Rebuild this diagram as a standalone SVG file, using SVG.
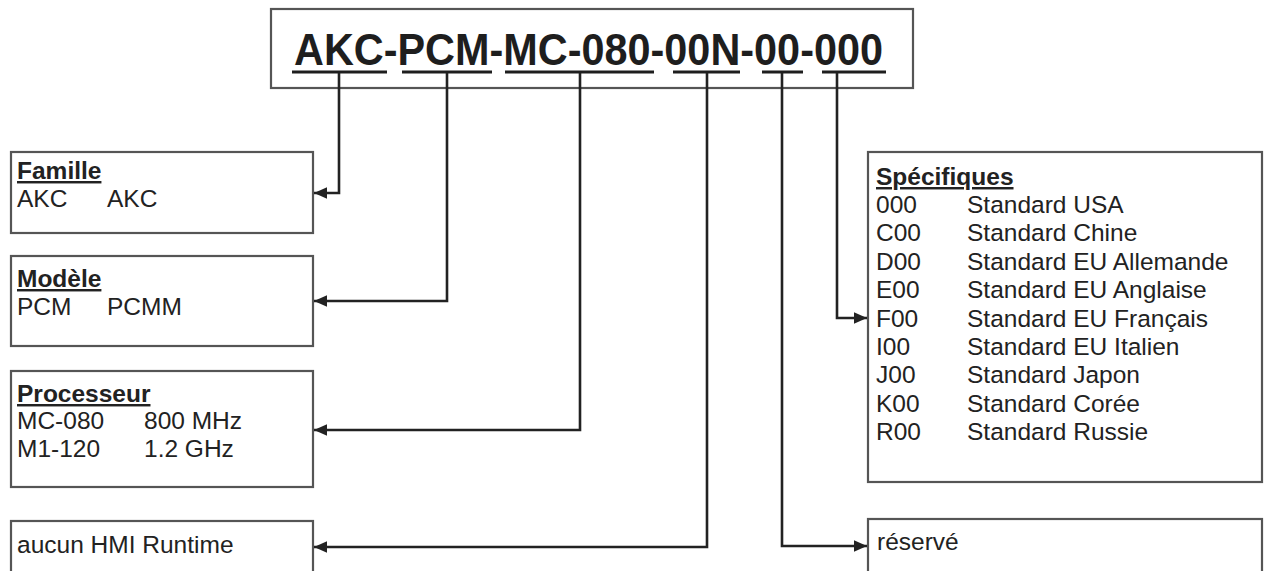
<svg xmlns="http://www.w3.org/2000/svg" width="1269" height="571" viewBox="0 0 1269 571">
<defs>
<style>
.box{fill:#fff;stroke:#555;stroke-width:2.2}
.t{font-family:"Liberation Sans",Arial,sans-serif;font-size:24.5px;fill:#222}
.h{font-weight:bold;text-decoration:underline}
.code{font-family:"Liberation Sans",Arial,sans-serif;font-weight:bold;font-size:45px;fill:#1e1e1e}
.ul{stroke:#1e1e1e;stroke-width:3.2}
.conn{fill:none;stroke:#222;stroke-width:2.6}
</style>
<marker id="ah" viewBox="0 0 10 10" refX="10" refY="5" markerWidth="5" markerHeight="5" orient="auto" markerUnits="strokeWidth">
<path d="M0,0.5 L10,5 L0,9.5 z" fill="#222"/>
</marker>
</defs>
<rect width="1269" height="571" fill="#fff"/>

<g id="code">
<rect class="box" x="271" y="9" width="642" height="79"/>
<text class="code" x="294" y="65" textLength="589" lengthAdjust="spacingAndGlyphs">AKC-PCM-MC-080-00N-00-000</text>
<line class="ul" x1="292" y1="72" x2="387" y2="72"/>
<line class="ul" x1="402" y1="72" x2="492" y2="72"/>
<line class="ul" x1="505" y1="72" x2="654" y2="72"/>
<line class="ul" x1="673" y1="72" x2="740" y2="72"/>
<line class="ul" x1="762" y1="72" x2="803" y2="72"/>
<line class="ul" x1="822" y1="72" x2="886" y2="72"/>
</g>

<g id="famille">
<rect class="box" x="11" y="152" width="302" height="81"/>
<text class="t h" x="17" y="179">Famille</text>
<text class="t" x="17" y="207">AKC</text>
<text class="t" x="107" y="207">AKC</text>
</g>

<g id="modele">
<rect class="box" x="11" y="256" width="302" height="90"/>
<text class="t h" x="17" y="287">Modèle</text>
<text class="t" x="17" y="315">PCM</text>
<text class="t" x="107" y="315">PCMM</text>
</g>

<g id="processeur">
<rect class="box" x="11" y="371" width="302" height="116"/>
<text class="t h" x="17" y="402">Processeur</text>
<text class="t" x="17" y="429">MC-080</text>
<text class="t" x="144" y="429">800 MHz</text>
<text class="t" x="17" y="457">M1-120</text>
<text class="t" x="144" y="457">1.2 GHz</text>
</g>

<g id="hmi">
<rect class="box" x="11" y="521" width="302" height="80"/>
<text class="t" x="17" y="553">aucun HMI Runtime</text>
</g>

<g id="specifiques">
<rect class="box" x="868" y="152" width="394" height="330"/>
<text class="t h" x="876" y="185">Spécifiques</text>
<text class="t" x="876" y="213">000</text><text class="t" x="967" y="213">Standard USA</text>
<text class="t" x="876" y="241.4">C00</text><text class="t" x="967" y="241.4">Standard Chine</text>
<text class="t" x="876" y="269.8">D00</text><text class="t" x="967" y="269.8">Standard EU Allemande</text>
<text class="t" x="876" y="298.1">E00</text><text class="t" x="967" y="298.1">Standard EU Anglaise</text>
<text class="t" x="876" y="326.5">F00</text><text class="t" x="967" y="326.5">Standard EU Français</text>
<text class="t" x="876" y="354.9">I00</text><text class="t" x="967" y="354.9">Standard EU Italien</text>
<text class="t" x="876" y="383.3">J00</text><text class="t" x="967" y="383.3">Standard Japon</text>
<text class="t" x="876" y="411.6">K00</text><text class="t" x="967" y="411.6">Standard Corée</text>
<text class="t" x="876" y="440">R00</text><text class="t" x="967" y="440">Standard Russie</text>
</g>

<g id="reserve">
<rect class="box" x="868" y="519" width="394" height="82"/>
<text class="t" x="877" y="550">réservé</text>
</g>

<g id="connectors">
<path class="conn" d="M339,73 V193 H314" marker-end="url(#ah)"/>
<path class="conn" d="M447,73 V301 H314" marker-end="url(#ah)"/>
<path class="conn" d="M580,73 V430 H314" marker-end="url(#ah)"/>
<path class="conn" d="M707,73 V547 H314" marker-end="url(#ah)"/>
<path class="conn" d="M782,73 V546 H867" marker-end="url(#ah)"/>
<path class="conn" d="M837,73 V318 H867" marker-end="url(#ah)"/>
</g>
</svg>
